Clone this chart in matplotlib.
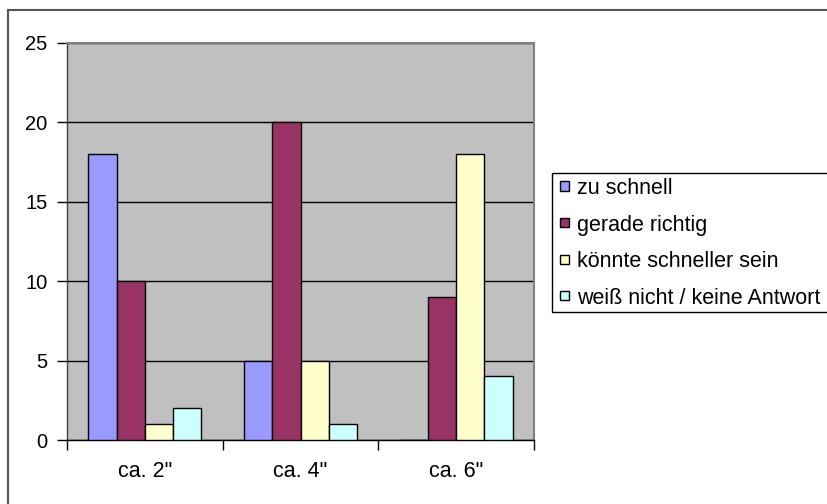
import matplotlib
matplotlib.use("Agg")
import matplotlib.pyplot as plt
import numpy as np
from matplotlib.lines import Line2D
from matplotlib.patches import Rectangle

categories = ['ca. 2"', 'ca. 4"', 'ca. 6"']
series_names = ["zu schnell", "gerade richtig", "könnte schneller sein",
                "weiß nicht / keine Antwort"]
zu_schnell = [18, 5, 0]
gerade_richtig = [10, 20, 9]
koennte_schneller = [1, 5, 18]
weiss_nicht = [2, 1, 4]
y_ticks = [0, 5, 10, 15, 20, 25]

values = [zu_schnell, gerade_richtig, koennte_schneller, weiss_nicht]
colors = ["#9999FF", "#993366", "#FFFFCC", "#CCFFFF"]

plt.rcParams["font.family"] = ["Liberation Sans", "DejaVu Sans"]

W, H = 827, 504
fig = plt.figure(figsize=(W / 100, H / 100), dpi=100)


def px(x, y):
    """Pixel position (from top-left) to figure fraction."""
    return x / W, 1 - y / H


ax = fig.add_axes([67 / W, 1 - 440 / H, (534 - 67) / W, (440 - 43) / H])
ax.set_facecolor("#C0C0C0")

n = len(values)
bw = 1 / (n + 1.5)
x = np.arange(len(categories))
for i, (vals, col, name) in enumerate(zip(values, colors, series_names)):
    offs = (i - (n - 1) / 2) * bw
    ax.bar(x + offs, vals, width=bw, color=col, edgecolor="black",
           linewidth=1.0, label=name, zorder=3)

ax.set_xlim(-0.5, len(categories) - 0.5)
ax.set_ylim(0, 25)
ax.set_yticks(y_ticks)
ax.set_yticklabels([str(t) for t in y_ticks], fontsize=14.5)
ax.yaxis.grid(True, color="black", linewidth=1.0, zorder=1)
ax.set_axisbelow(True)

# category labels centred, ticks on the category boundaries
ax.set_xticks(x)
ax.set_xticklabels(categories, fontsize=15.5)
ax.tick_params(axis="x", which="major", length=0, pad=15)
ax.set_xticks(np.arange(-0.5, len(categories)), minor=True)
ax.tick_params(axis="x", which="minor", length=7, width=1, color="black",
               direction="out")
ax.tick_params(axis="y", length=7, width=1, color="black", direction="out",
               pad=7)

for side in ["top", "right"]:
    ax.spines[side].set_color("#808080")
    ax.spines[side].set_linewidth(1.5)
ax.spines["left"].set_color("#404040")
ax.spines["bottom"].set_color("black")
ax.spines["left"].set_linewidth(1)
ax.spines["bottom"].set_linewidth(1)

# legend box with square keys
lx0, ly0, lx1, ly1 = 552, 173, 832, 312
fig.add_artist(Rectangle(px(lx0, ly1), (lx1 - lx0) / W, (ly1 - ly0) / H,
                         transform=fig.transFigure, facecolor="white",
                         edgecolor="black", linewidth=1.0))
for i, (name, col) in enumerate(zip(series_names, colors)):
    cy = 186 + 36.5 * i
    fig.add_artist(Rectangle(px(560, cy + 4.5), 9 / W, 9 / H,
                             transform=fig.transFigure, facecolor=col,
                             edgecolor="black", linewidth=1.0))
    fx, fy = px(577, cy)
    fig.text(fx, fy, name, fontsize=15.5, ha="left", va="center_baseline")

# outer chart frame
fig.add_artist(Line2D([8 / W, 8 / W], [0, 1 - 10 / H], color="#555555",
                      linewidth=1.5, transform=fig.transFigure))
fig.add_artist(Line2D([8 / W, 1], [1 - 10 / H, 1 - 10 / H], color="#555555",
                      linewidth=1.5, transform=fig.transFigure))

fig.savefig("out.png", dpi=100)
